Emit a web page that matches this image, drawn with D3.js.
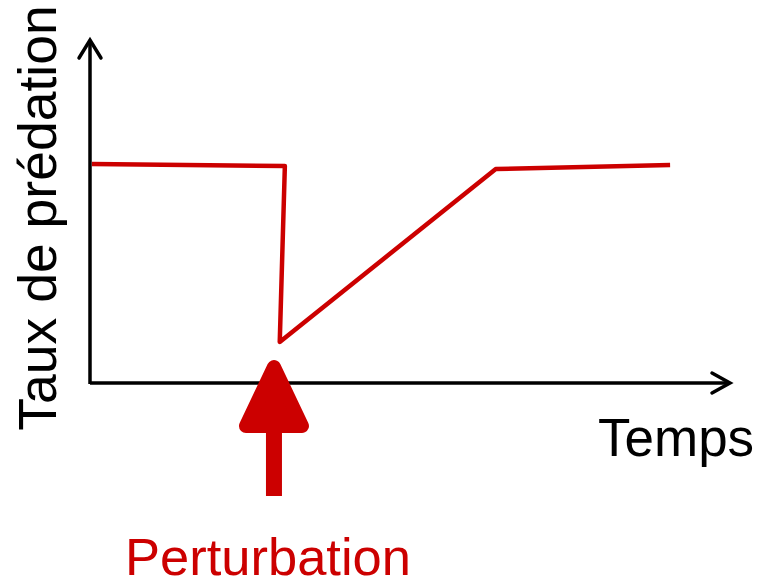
<!DOCTYPE html>
<html>
<head>
<meta charset="utf-8">
<script src="https://cdn.jsdelivr.net/npm/d3@7"></script>
<style>
  body { margin: 0; background: #fff; }
  text { font-family: "Liberation Sans", Arial, sans-serif; }
</style>
</head>
<body>
<div id="chart"></div>
<script>
// data (arbitrary units)
var temps = [0.03, 3.04, 2.96, 6.33, 9.05];
var taux = [6.35, 6.29, 1.19, 6.20, 6.32];
var perturbationTemps = 2.87;
var labels = { x: "Temps", y: "Taux de prédation", event: "Perturbation" };

var width = 769, height = 584;
var red = "#cc0000";

var svg = d3.select("#chart").append("svg")
    .attr("width", width)
    .attr("height", height);

var x = d3.scaleLinear().domain([0, 10]).range([90, 731]);
var y = d3.scaleLinear().domain([0, 10]).range([383, 38]);

// axes with arrow heads
var axes = svg.append("g")
    .attr("fill", "none")
    .attr("stroke", "#000")
    .attr("stroke-width", 3.5);

axes.append("path")
    .attr("d", d3.line()([[x(0), y(0)], [x(10) - 2, y(0)]]));
axes.append("path")
    .attr("d", d3.line()([[x(0), y(0) + 1], [x(0), y(10) + 2]]));

axes.append("path")
    .attr("stroke-linecap", "round")
    .attr("stroke-linejoin", "miter")
    .attr("d", d3.line()([[x(10) - 19, y(0) - 10], [x(10) - 1, y(0)], [x(10) - 19, y(0) + 10]]));
axes.append("path")
    .attr("stroke-linecap", "round")
    .attr("stroke-linejoin", "miter")
    .attr("d", d3.line()([[x(0) - 11, y(10) + 20], [x(0), y(10) + 2], [x(0) + 11, y(10) + 20]]));

// red curve
var pts = temps.map(function(t, i) { return [x(t), y(taux[i])]; });
svg.append("path")
    .attr("d", d3.line()(pts))
    .attr("fill", "none")
    .attr("stroke", red)
    .attr("stroke-width", 4.5)
    .attr("stroke-linejoin", "round");

// perturbation arrow
var px = x(perturbationTemps);
svg.append("line")
    .attr("x1", px).attr("x2", px)
    .attr("y1", 496).attr("y2", 390)
    .attr("stroke", red)
    .attr("stroke-width", 16);
svg.append("path")
    .attr("d", d3.line()([[px - 28, 426], [px, 367], [px + 28, 426]]) + "Z")
    .attr("fill", red)
    .attr("stroke", red)
    .attr("stroke-width", 14)
    .attr("stroke-linecap", "round")
    .attr("stroke-linejoin", "round");

// labels
svg.append("text")
    .attr("x", 598)
    .attr("y", 456)
    .attr("font-size", 53)
    .attr("fill", "#000")
    .text(labels.x);

svg.append("text")
    .attr("transform", "translate(56,218) rotate(-90)")
    .attr("text-anchor", "middle")
    .attr("font-size", 53.5)
    .attr("fill", "#000")
    .text(labels.y);

svg.append("text")
    .attr("x", 268)
    .attr("y", 575)
    .attr("text-anchor", "middle")
    .attr("font-size", 52.5)
    .attr("fill", red)
    .text(labels.event);
</script>
</body>
</html>
